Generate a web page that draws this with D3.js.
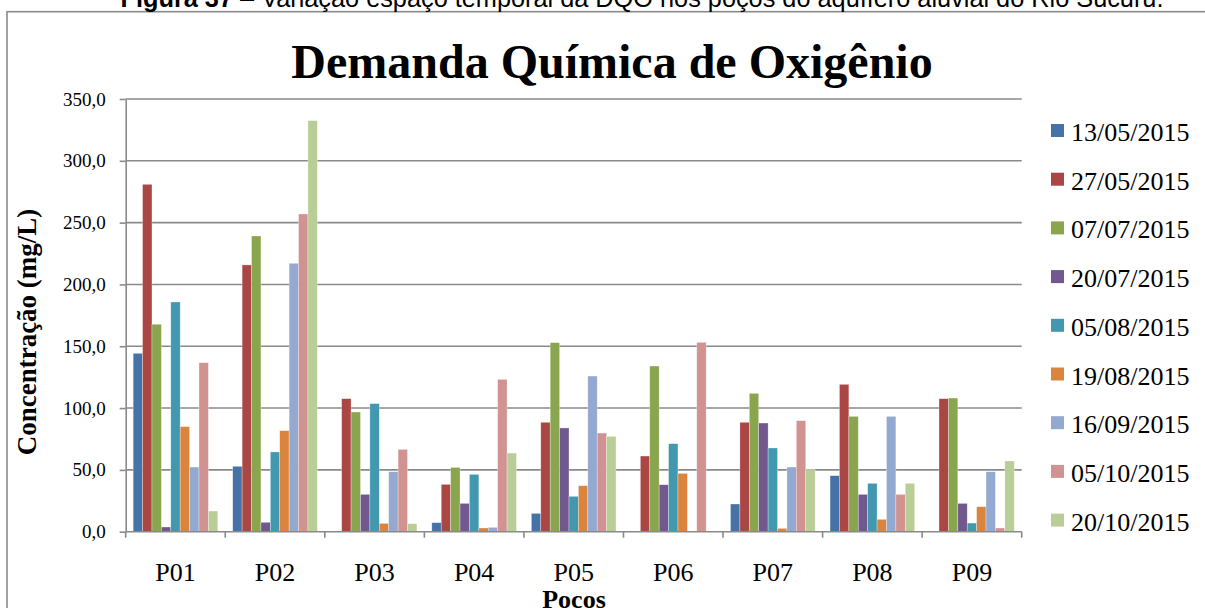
<!DOCTYPE html>
<html>

<head>
    <meta charset="utf-8">
    <title>Demanda Química de Oxigênio</title>
    <script type="text/javascript" src="https://cdn.jsdelivr.net/npm/d3@7"></script>
    <style type="text/css">
        body {
            margin: 0;
            background: #fff;
        }

        svg text {
            font-family: "Liberation Serif", "Times New Roman", serif;
            fill: #000;
        }

        svg text.caption {
            font-family: "Liberation Sans", Arial, sans-serif;
            font-size: 25.3px;
        }

        .grid line {
            stroke: #8a8a8a;
            stroke-width: 1.6px;
        }

        .axis path,
        .axis line {
            stroke: #8a8a8a;
            stroke-width: 1.6px;
            fill: none;
        }
    </style>
</head>

<body>

    <script type="text/javascript">
        var pocos = ["P01", "P02", "P03", "P04", "P05", "P06", "P07", "P08", "P09"];

        var datas = ["13/05/2015", "27/05/2015", "07/07/2015", "20/07/2015", "05/08/2015",
            "19/08/2015", "16/09/2015", "05/10/2015", "20/10/2015"];

        var cores = ["#4572A7", "#AA4643", "#89A54E", "#71588F", "#4198AF",
            "#DB843D", "#93A9CF", "#D19392", "#B9CD96"];

        // DQO (mg/L) por poço, uma lista por campanha
        var d130515 = [144.3, 52.9, 0, 7.3, 14.8, 0, 22.4, 45.3, 0];
        var d270515 = [281.0, 215.8, 107.6, 38.3, 88.5, 61.2, 88.5, 119.2, 107.6];
        var d070715 = [167.8, 239.2, 96.8, 52.0, 152.9, 134.0, 111.9, 93.3, 108.1];
        var d200715 = [3.8, 7.6, 30.2, 22.9, 83.9, 38.0, 87.9, 30.2, 22.9];
        var d050815 = [185.8, 64.5, 103.6, 46.4, 28.6, 71.2, 67.7, 39.1, 7.0];
        var d190815 = [85.0, 81.7, 6.7, 3.0, 37.2, 47.2, 2.7, 10.0, 20.2];
        var d160915 = [52.3, 217.1, 48.5, 3.5, 125.9, 0, 52.3, 93.3, 48.5];
        var d051015 = [136.7, 257.0, 66.6, 123.2, 79.8, 153.2, 89.8, 30.2, 3.0];
        var d201015 = [16.7, 332.5, 6.5, 63.6, 77.1, 0, 50.2, 39.1, 57.2];

        var yTicks = [0, 50, 100, 150, 200, 250, 300, 350];

        var series = [d130515, d270515, d070715, d200715, d050815,
            d190815, d160915, d051015, d201015];

        var _width = 1205,
            _height = 608,
            _plot = { left: 125.7, right: 1021.7, top: 99, bottom: 531.7 };

        var svg = d3.select("body").append("svg")
            .attr("width", _width)
            .attr("height", _height);

        // moldura do gráfico
        svg.append("rect")
            .attr("x", 7)
            .attr("y", 11.7)
            .attr("width", 1210)
            .attr("height", 620)
            .attr("fill", "none")
            .attr("stroke", "#8a8a8a")
            .attr("stroke-width", 1.6);

        var caption = svg.append("text")
            .attr("class", "caption")
            .attr("x", 642)
            .attr("y", 6.5)
            .attr("text-anchor", "middle");
        caption.append("tspan")
            .style("font-weight", "bold")
            .text("Figura 37");
        caption.append("tspan")
            .text(" – Variação espaço temporal da DQO nos poços do aquífero aluvial do Rio Sucuru.");

        svg.append("text")
            .attr("x", 612)
            .attr("y", 78)
            .attr("text-anchor", "middle")
            .style("font-size", "48px")
            .style("font-weight", "bold")
            .text("Demanda Química de Oxigênio");

        var x0 = d3.scaleBand()
            .domain(pocos)
            .range([_plot.left, _plot.right])
            .paddingInner(0.15)
            .paddingOuter(0.075);

        var x1 = d3.scaleBand()
            .domain(d3.range(datas.length))
            .range([0, x0.bandwidth()]);

        var y = d3.scaleLinear()
            .domain([0, 350])
            .range([_plot.bottom, _plot.top]);

        var fmt = function (v) {
            return d3.format(".1f")(v).replace(".", ",");
        };

        // linhas de grade
        svg.append("g")
            .attr("class", "grid")
            .selectAll("line")
            .data(yTicks.slice(1))
            .enter().append("line")
            .attr("x1", _plot.left)
            .attr("x2", _plot.right)
            .attr("y1", function (d) { return y(d); })
            .attr("y2", function (d) { return y(d); });

        // barras
        var groups = svg.append("g")
            .selectAll("g")
            .data(series)
            .enter().append("g")
            .attr("fill", function (d, i) { return cores[i]; });

        groups.selectAll("rect")
            .data(function (d, i) {
                return d.map(function (v, j) {
                    return { s: i, p: pocos[j], v: v };
                });
            })
            .enter().append("rect")
            .attr("x", function (d) { return x0(d.p) + x1(d.s); })
            .attr("width", x1.bandwidth())
            .attr("y", function (d) { return y(d.v); })
            .attr("height", function (d) { return y(0) - y(d.v); })
            .attr("stroke", "#fff")
            .attr("stroke-opacity", 0.5)
            .attr("stroke-width", 0.6);

        // eixo y
        var yAxis = svg.append("g")
            .attr("class", "axis")
            .attr("transform", "translate(" + _plot.left + ",0)")
            .call(d3.axisLeft(y)
                .tickValues(yTicks)
                .tickFormat(fmt)
                .tickSizeInner(6)
                .tickSizeOuter(0)
                .tickPadding(14));
        yAxis.attr("font-family", "Liberation Serif")
            .attr("font-size", 19);

        // eixo x com marcas entre as categorias
        var xAxis = svg.append("g")
            .attr("class", "axis")
            .attr("transform", "translate(0," + _plot.bottom + ")");
        xAxis.append("line")
            .attr("x1", _plot.left)
            .attr("x2", _plot.right);
        xAxis.selectAll("line.tick")
            .data(d3.range(pocos.length + 1))
            .enter().append("line")
            .attr("class", "tick")
            .attr("x1", function (i) { return _plot.left + i * x0.step(); })
            .attr("x2", function (i) { return _plot.left + i * x0.step(); })
            .attr("y1", 0)
            .attr("y2", 6);
        xAxis.selectAll("text")
            .data(pocos)
            .enter().append("text")
            .attr("x", function (d) { return x0(d) + x0.bandwidth() / 2; })
            .attr("y", 49.5)
            .attr("text-anchor", "middle")
            .style("font-size", "26px")
            .text(function (d) { return d; });

        svg.append("text")
            .attr("x", 574)
            .attr("y", 608)
            .attr("text-anchor", "middle")
            .style("font-size", "26px")
            .style("font-weight", "bold")
            .text("Poços");

        svg.append("text")
            .attr("transform", "translate(36,332) rotate(-90)")
            .attr("text-anchor", "middle")
            .style("font-size", "27px")
            .style("font-weight", "bold")
            .text("Concentração (mg/L)");

        // legenda
        var legend = svg.append("g")
            .selectAll("g")
            .data(datas)
            .enter().append("g")
            .attr("transform", function (d, i) {
                return "translate(1051," + (131 + i * 48.7) + ")";
            });
        legend.append("rect")
            .attr("x", 0)
            .attr("y", -7)
            .attr("width", 13)
            .attr("height", 13)
            .attr("fill", function (d, i) { return cores[i]; });
        legend.append("text")
            .attr("x", 20)
            .attr("y", 10)
            .style("font-size", "26px")
            .text(function (d) { return d; });
    </script>

</body>

</html>
